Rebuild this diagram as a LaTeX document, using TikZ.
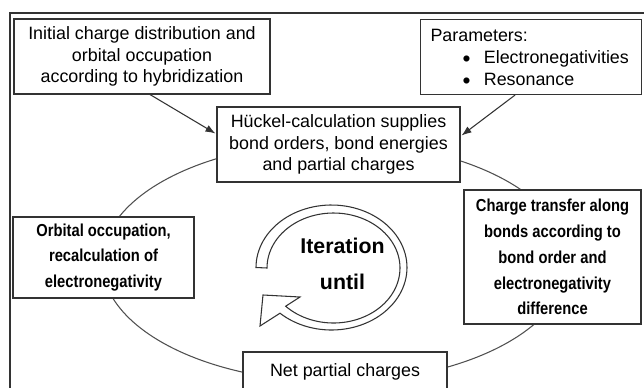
\documentclass[tikz,border=0pt]{standalone}
\usepackage{fontspec}
\setmainfont{Liberation Sans}
\newfontfamily\bcond[FakeStretch=0.85]{Liberation Sans}
\usetikzlibrary{arrows.meta,calc}
\definecolor{ln}{HTML}{333333}
\definecolor{cy}{HTML}{505050}
\newcommand{\bigbul}{\smash{\raisebox{-2.4pt}{\fontsize{17}{16}\selectfont\textbullet}}}
\begin{document}
\begin{tikzpicture}[x=0.75pt,y=-0.75pt,
  box/.style={draw=ln,line width=0.8pt,fill=white,inner sep=0pt,align=center,
    font=\fontsize{13.4}{16}\selectfont},
  bbox/.style={draw=ln,line width=0.8pt,fill=white,inner sep=0pt,align=center,
    font=\bcond\bfseries\fontsize{13}{19.4}\selectfont},
  arr/.style={draw=ln,line width=0.8pt,-{Latex[length=7.5pt,width=5.5pt]}},
  cyc/.style={draw=cy,line width=0.8pt},
  ring/.style={draw=ln,line width=0.8pt,fill=white,line join=miter}]
\useasboundingbox (0,0) rectangle (644,387);
\clip (0,0) rectangle (644,387);
% outer frame
\draw[ln,line width=0.9pt] (10,13) rectangle (670,420);
% iteration cycle
\draw[cyc] plot[domain=0:360,samples=200] ({335+233*cos(\x)},{262+120*sin(\x)}) -- cycle;
% circular arrow
\draw[ring] plot[domain=180:493,samples=100] ({331.5+75.5*cos(\x)},{267.5+62.5*sin(\x)})
  -- (260,326) -- (263,295) -- (300,297)
  -- plot[domain=496:180,samples=100] ({333.5+66.5*cos(\x)},{268+55*sin(\x)}) -- cycle;
\node[font=\bfseries\fontsize{16}{27}\selectfont,align=center] (iter) at (342.5,264) {Iteration\\until};
% boxes
\node[box,minimum width=192pt,minimum height=56.25pt] (b1) at (142,56.5)
  {Initial charge distribution and\\orbital occupation\\according to hybridization};
\node[box,anchor=north west,minimum height=56.25pt,text width=150.75pt,inner xsep=7.5pt,align=left,
  font=\fontsize{13.4}{16.5}\selectfont] (par) at (420,19)
  {Parameters:\\\hspace*{24pt}\makebox[16pt][l]{\bigbul}Electronegativities\\\hspace*{24pt}\makebox[16pt][l]{\bigbul}Resonance};
\node[box,minimum width=182.25pt,minimum height=56.25pt] (huck) at (338.5,144.5)
  {Hückel-calculation supplies\\bond orders, bond energies\\and partial charges};
\node[bbox,minimum width=135.75pt,minimum height=60.75pt] (orb) at (103.5,257.5)
  {Orbital occupation,\\recalculation of\\electronegativity};
\node[bbox,minimum width=132.75pt,minimum height=100.5pt] (ct) at (552.5,257)
  {Charge transfer along\\bonds according to\\bond order and\\electronegativity\\difference};
\node[box,minimum width=153pt,minimum height=30pt] (net) at (345,372) {Net partial charges};
% arrows
\draw[arr] ($(b1.south)+(8,0)$) -- ($(huck.west)+(-1,-11)$);
\draw[arr] ($(par.south)+(-16,0)$) -- ($(huck.east)+(1,-9)$);
\end{tikzpicture}
\end{document}
